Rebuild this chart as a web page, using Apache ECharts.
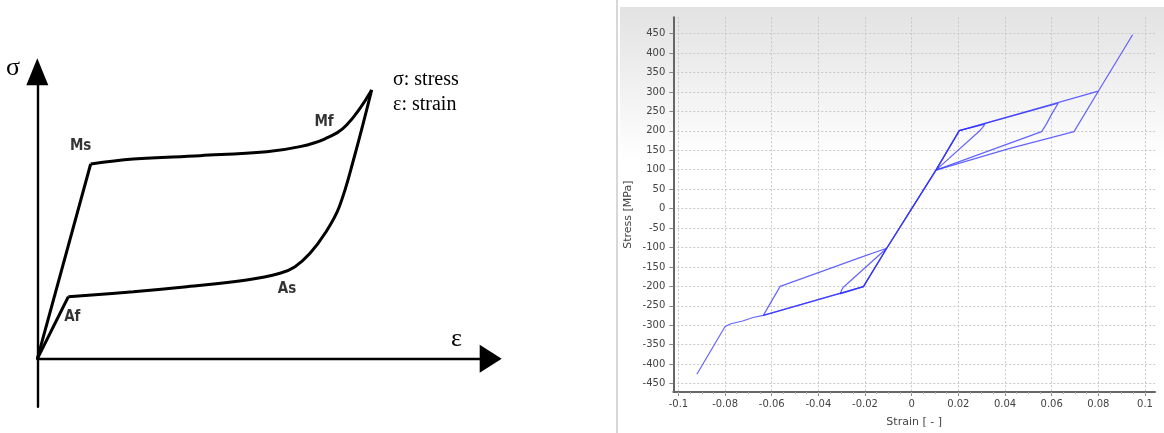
<!DOCTYPE html>
<html>
<head>
<meta charset="utf-8">
<script src="https://cdn.jsdelivr.net/npm/echarts@6/dist/echarts.min.js"></script>
<style>
  html, body { margin: 0; padding: 0; background: #ffffff; }
  #chart { width: 1164px; height: 433px; }
</style>
</head>
<body>
<div id="chart"></div>
<script>
// ---- Schematic superelastic loop (arbitrary strain / stress units) ----
const loadingElastic = [[0, 0], [1.177, 4.073]];
const loadingPlateau = [
  [1.177, 4.073], [2.117, 4.178], [3.588, 4.247], [5.059, 4.331], [5.794, 4.436],
  [6.346, 4.600], [6.823, 4.888], [7.375, 5.620]
];
const unloadingCurve = [
  [7.375, 5.620], [7.000, 4.250], [6.661, 3.181], [6.346, 2.624],
  [6.015, 2.206], [5.684, 1.927], [5.353, 1.788], [4.618, 1.648], [3.295, 1.509],
  [2.117, 1.404], [0.684, 1.299]
];
const unloadingElastic = [[0.684, 1.299], [0, 0]];
const stateNames = ['Ms', 'Mf', 'As', 'Af'];
const statePoints = [[1.177, 4.073], [6.346, 4.600], [5.353, 1.788], [0.684, 1.299]];

// ---- Simulated stress-strain cycles: [strain, stress in MPa] ----
const cycle1 = [
  [0, 0], [0.0104, 99], [0.0204, 200.6], [0.0314, 217], [0.0304, 209], [0.0293, 201],
  [0.0104, 99], [0, 0], [-0.0107, -102], [-0.0207, -200.6], [-0.0307, -219.5],
  [-0.0300, -209], [-0.0293, -202], [-0.0107, -102], [0, 0]
];
const cycle2 = [
  [0, 0], [0.0104, 99], [0.0204, 200.6], [0.0628, 271], [0.0600, 243], [0.0578, 218],
  [0.0557, 198], [0.0104, 99], [0, 0], [-0.0107, -102], [-0.0207, -200.6],
  [-0.0636, -274.5], [-0.0564, -200], [-0.0543, -195.5], [-0.0379, -160],
  [-0.0222, -126], [-0.0107, -102], [0, 0]
];
const cycle3 = [
  [0, 0], [0.0104, 99], [0.0204, 200.6], [0.0800, 302], [0.0947, 447], [0.0800, 302],
  [0.0696, 198], [0.0421, 155], [0.0104, 99], [0, 0], [-0.0107, -102], [-0.0207, -200.6],
  [-0.0636, -274.5], [-0.0680, -280], [-0.0725, -289], [-0.0775, -296], [-0.0800, -303],
  [-0.0921, -426]
];
const strainTicks = [-0.1, -0.08, -0.06, -0.04, -0.02, 0, 0.02, 0.04, 0.06, 0.08, 0.1];
const stressTicks = [-450, -400, -350, -300, -250, -200, -150, -100, -50, 0,
                     50, 100, 150, 200, 250, 300, 350, 400, 450];
const strainMinorTicks = [];
for (let i = -20; i <= 20; i++) strainMinorTicks.push(+(i * 0.005).toFixed(3));

const chart = echarts.init(document.getElementById('chart'), null, { renderer: 'canvas' });

const black = '#000000';
const curveStyle = { color: black, width: 3 };
const labelOffsets = { Ms: [-10, -18], Mf: [-1, -17], As: [7, 16], Af: [4, 20] };
const cycleStyle = { color: 'rgba(50, 50, 255, 0.75)', width: 1.2 };
const tickFont = { fontFamily: 'DejaVu Sans', fontSize: 10, color: '#444444' };

function cycleSeries(data) {
  return {
    type: 'line', xAxisIndex: 1, yAxisIndex: 1, data: data,
    showSymbol: false, symbol: 'none', lineStyle: cycleStyle, silent: true, z: 5
  };
}

const option = {
  animation: false,
  backgroundColor: '#ffffff',
  graphic: [
    // right panel backdrop
    { type: 'rect', z: -10, silent: true,
      shape: { x: 620, y: 7, width: 544, height: 426 },
      style: { fill: new echarts.graphic.LinearGradient(0, 0, 0, 1, [
        { offset: 0, color: '#e2e2e2' }, { offset: 0.36, color: '#ffffff' }, { offset: 1, color: '#ffffff' }
      ]) } },
    { type: 'rect', z: -9, silent: true,
      shape: { x: 616, y: 0, width: 2, height: 433 }, style: { fill: '#d8d8d8' } },
    // schematic annotations
    { type: 'text', left: 6, top: 55, style: { text: 'σ', font: '26px "Liberation Serif"', fill: black } },
    { type: 'text', left: 451, top: 326, style: { text: 'ε', font: '26px "Liberation Serif"', fill: black } },
    { type: 'text', left: 393, top: 70, style: { text: 'σ: stress', font: '20px "Liberation Serif"', fill: black } },
    { type: 'text', left: 393, top: 95, style: { text: 'ε: strain', font: '20px "Liberation Serif"', fill: black } }
  ],
  grid: [
    { left: 37.3, top: 71.8, width: 453.4, height: 334.9, containLabel: false },
    { left: 673.3, top: 17.3, right: 9, bottom: 37.3, containLabel: false }
  ],
  xAxis: [
    { type: 'value', gridIndex: 0, min: 0, max: 10,
      axisLine: { show: true, onZero: true, symbol: ['none', 'triangle'], symbolSize: [28, 22],
                  lineStyle: { color: black, width: 2.4 } },
      axisTick: { show: false }, axisLabel: { show: false }, splitLine: { show: false } },
    { type: 'value', gridIndex: 1, min: -0.1022, max: 0.1043, position: 'bottom',
      name: 'Strain [ - ]', nameLocation: 'middle', nameGap: 25,
      nameTextStyle: { fontFamily: 'DejaVu Sans', fontSize: 11, color: '#444444' },
      axisLine: { show: true, onZero: false, lineStyle: { color: '#666666', width: 2 } },
      axisTick: { show: true, inside: false, length: 4, customValues: strainTicks,
                  lineStyle: { color: '#888888', width: 1 } },
      axisLabel: Object.assign({ show: true, margin: 7, customValues: strainTicks,
                  formatter: v => String(+v.toFixed(2)) }, tickFont),
      splitLine: { show: true, lineStyle: { color: '#c8c8c8', width: 1, type: [2, 2] } } },
    { type: 'value', gridIndex: 1, min: -0.1022, max: 0.1043, position: 'bottom',
      axisLine: { show: false, onZero: false },
      axisTick: { show: true, inside: false, length: 2, customValues: strainMinorTicks,
                  lineStyle: { color: '#aaaaaa', width: 1 } },
      axisLabel: { show: false }, splitLine: { show: false } }
  ],
  yAxis: [
    { type: 'value', gridIndex: 0, min: -1, max: 6,
      axisLine: { show: true, onZero: true, symbol: ['none', 'triangle'], symbolSize: [22, 27],
                  lineStyle: { color: black, width: 2.4 } },
      axisTick: { show: false }, axisLabel: { show: false }, splitLine: { show: false } },
    { type: 'value', gridIndex: 1, min: -471.5, max: 492, position: 'left',
      name: 'Stress [MPa]', nameLocation: 'middle', nameGap: 40, nameRotate: 90,
      nameTextStyle: { fontFamily: 'DejaVu Sans', fontSize: 11, color: '#444444', padding: [0, 20, 0, 0] },
      axisLine: { show: true, onZero: false, lineStyle: { color: '#666666', width: 2 } },
      axisTick: { show: true, inside: false, length: 4, customValues: stressTicks,
                  lineStyle: { color: '#888888', width: 1 } },
      axisLabel: Object.assign({ show: true, margin: 8, customValues: stressTicks }, tickFont),
      splitLine: { show: true, lineStyle: { color: '#c8c8c8', width: 1, type: [2, 2] } } }
  ],
  series: [
    { type: 'line', xAxisIndex: 0, yAxisIndex: 0, data: loadingElastic, showSymbol: false,
      symbol: 'none', lineStyle: curveStyle, silent: true },
    { type: 'line', xAxisIndex: 0, yAxisIndex: 0, data: loadingPlateau, showSymbol: false,
      symbol: 'none', smooth: 0.4, lineStyle: curveStyle, silent: true },
    { type: 'line', xAxisIndex: 0, yAxisIndex: 0, data: unloadingCurve, showSymbol: false,
      symbol: 'none', smooth: 0.4, lineStyle: curveStyle, silent: true },
    { type: 'line', xAxisIndex: 0, yAxisIndex: 0, data: unloadingElastic, showSymbol: false,
      symbol: 'none', lineStyle: curveStyle, silent: true },
    { type: 'scatter', xAxisIndex: 0, yAxisIndex: 0, symbolSize: 0, silent: true,
      data: stateNames.map((n, i) => ({ name: n, value: statePoints[i],
        label: { offset: labelOffsets[n] } })),
      label: { show: true, position: 'inside', formatter: '{b}', color: black,
               fontFamily: '"Liberation Sans Narrow", "DejaVu Sans Condensed", sans-serif',
               fontWeight: 'bold', fontSize: 15 } },
    cycleSeries(cycle1),
    cycleSeries(cycle2),
    cycleSeries(cycle3)
  ]
};

chart.setOption(option);
</script>
</body>
</html>
